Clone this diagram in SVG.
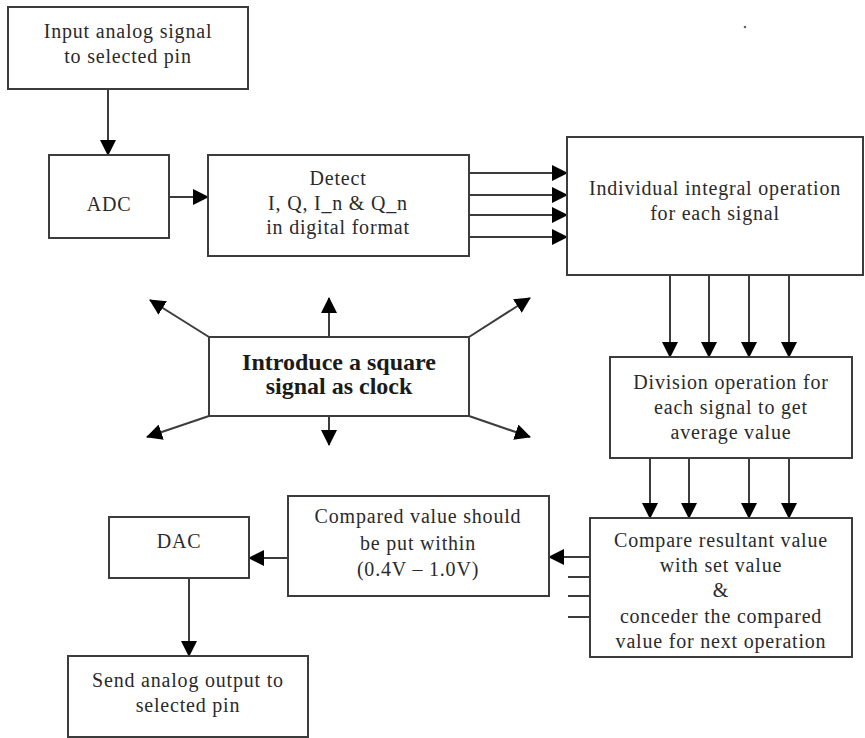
<svg xmlns="http://www.w3.org/2000/svg" width="865" height="738" viewBox="0 0 865 738">
<style>
.box{fill:#fff;stroke:#3c3c3c;stroke-width:2}
.t{font-family:"Liberation Serif","Times New Roman",serif;font-size:20px;letter-spacing:0.8px;fill:#2a2a2a;text-anchor:middle}
.tb{font-family:"Liberation Serif","Times New Roman",serif;font-size:24px;font-weight:bold;fill:#1a1a1a;text-anchor:middle}
.c{stroke:#3c3c3c;stroke-width:2;fill:none}
.a{marker-end:url(#ah)}
</style>
<defs>
<marker id="ah" markerUnits="userSpaceOnUse" markerWidth="16" markerHeight="16" refX="15" refY="8" orient="auto" viewBox="0 0 16 16">
<path d="M0,0 L16,8 L0,16 z" fill="#000"/>
</marker>
</defs>
<rect width="865" height="738" fill="#fff"/>
<circle cx="745" cy="27" r="1.3" fill="#666"/>
<g id="connectors">
<line class="c a" x1="108" y1="89" x2="108" y2="155"/>
<line class="c a" x1="169" y1="197" x2="208" y2="197"/>
<line class="c a" x1="469" y1="173" x2="567" y2="173"/>
<line class="c a" x1="469" y1="195" x2="567" y2="195"/>
<line class="c a" x1="469" y1="215" x2="567" y2="215"/>
<line class="c a" x1="469" y1="237" x2="567" y2="237"/>
<line class="c a" x1="670" y1="275" x2="670" y2="357"/>
<line class="c a" x1="709" y1="275" x2="709" y2="357"/>
<line class="c a" x1="749" y1="275" x2="749" y2="357"/>
<line class="c a" x1="789" y1="275" x2="789" y2="357"/>
<line class="c a" x1="650" y1="458" x2="650" y2="518"/>
<line class="c a" x1="689" y1="458" x2="689" y2="518"/>
<line class="c a" x1="749" y1="458" x2="749" y2="518"/>
<line class="c a" x1="789" y1="458" x2="789" y2="518"/>
<line class="c a" x1="590" y1="557" x2="549" y2="557"/>
<line class="c" x1="568" y1="577" x2="590" y2="577"/>
<line class="c" x1="568" y1="596" x2="590" y2="596"/>
<line class="c" x1="568" y1="617" x2="590" y2="617"/>
<line class="c a" x1="288" y1="558" x2="249" y2="558"/>
<line class="c a" x1="189" y1="578" x2="189" y2="656"/>
<line class="c a" x1="329" y1="337" x2="329" y2="298"/>
<line class="c a" x1="329" y1="416" x2="329" y2="445"/>
<line class="c a" x1="209" y1="337" x2="150" y2="300"/>
<line class="c a" x1="469" y1="337" x2="530" y2="298"/>
<line class="c a" x1="209" y1="416" x2="147" y2="437"/>
<line class="c a" x1="469" y1="416" x2="530" y2="437"/>
</g>
<g id="input">
<rect class="box" x="8" y="7" width="240" height="82"/>
<text class="t" x="128" y="38">Input analog signal</text>
<text class="t" x="128" y="63">to selected pin</text>
</g>
<g id="adc">
<rect class="box" x="49" y="155" width="120" height="83"/>
<text class="t" x="109" y="211">ADC</text>
</g>
<g id="detect">
<rect class="box" x="208" y="155" width="261" height="101"/>
<text class="t" x="338" y="185">Detect</text>
<text class="t" x="338" y="210">I, Q, I_n &amp; Q_n</text>
<text class="t" x="338" y="234">in digital format</text>
</g>
<g id="integral">
<rect class="box" x="567" y="137" width="296" height="138"/>
<text class="t" x="715" y="195">Individual integral operation</text>
<text class="t" x="715" y="220">for each signal</text>
</g>
<g id="division">
<rect class="box" x="610" y="357" width="242" height="101"/>
<text class="t" x="731" y="389">Division operation for</text>
<text class="t" x="731" y="414">each signal to get</text>
<text class="t" x="731" y="439">average value</text>
</g>
<g id="compare">
<rect class="box" x="590" y="518" width="262" height="139"/>
<text class="t" x="721" y="547">Compare resultant value</text>
<text class="t" x="721" y="572">with set value</text>
<text class="t" x="721" y="597">&amp;</text>
<text class="t" x="721" y="623">conceder the compared</text>
<text class="t" x="721" y="648">value for next operation</text>
</g>
<g id="within">
<rect class="box" x="288" y="496" width="261" height="100"/>
<text class="t" x="418" y="523">Compared value should</text>
<text class="t" x="418" y="550">be put within</text>
<text class="t" x="418" y="576">(0.4V – 1.0V)</text>
</g>
<g id="dac">
<rect class="box" x="109" y="517" width="140" height="61"/>
<text class="t" x="179" y="548">DAC</text>
</g>
<g id="send">
<rect class="box" x="68" y="656" width="240" height="81"/>
<text class="t" x="188" y="687">Send analog output to</text>
<text class="t" x="188" y="712">selected pin</text>
</g>
<g id="clock">
<rect class="box" x="209" y="337" width="260" height="79"/>
<text class="tb" x="339" y="370">Introduce a square</text>
<text class="tb" x="339" y="394">signal as clock</text>
</g>
</svg>
